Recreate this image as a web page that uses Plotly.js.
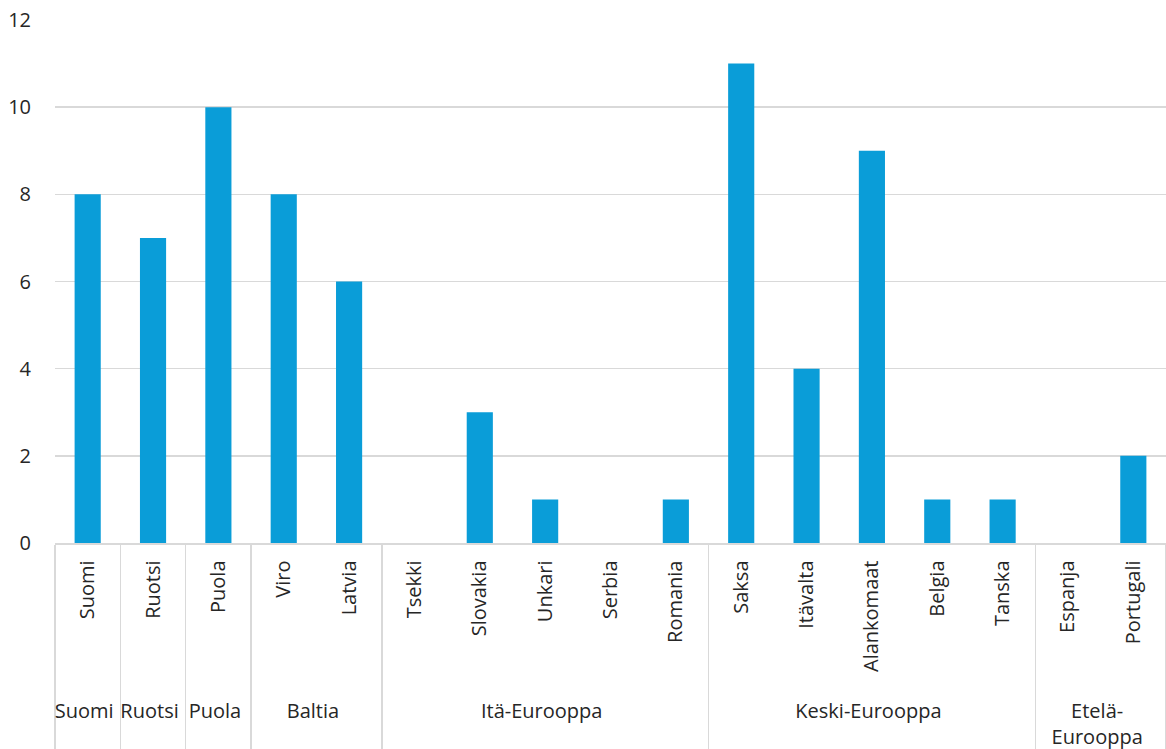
<!DOCTYPE html>
<html><head><meta charset="utf-8">
<script src="https://cdn.plot.ly/plotly-3.0.1.min.js"></script>
<style>html,body{margin:0;padding:0;background:#fff}#chart{width:1166px;height:749px}</style>
</head><body><div id="chart"></div>
<script>
const regions = ["Suomi","Ruotsi","Puola","Baltia","Baltia","Itä-Eurooppa","Itä-Eurooppa","Itä-Eurooppa","Itä-Eurooppa","Itä-Eurooppa","Keski-Eurooppa","Keski-Eurooppa","Keski-Eurooppa","Keski-Eurooppa","Keski-Eurooppa","Etelä-<br>Eurooppa","Etelä-<br>Eurooppa"];
const countries = ["Suomi","Ruotsi","Puola","Viro","Latvia","Tsekki","Slovakia","Unkari","Serbia","Romania","Saksa","Itävalta","Alankomaat","Belgia","Tanska","Espanja","Portugali"];
const values = [8,7,10,8,6,0,3,1,0,1,11,4,9,1,1,0,2];
const yTicks = [0,2,4,6,8,10,12];

// leading non-breaking spaces leave room below the rotated labels, as in the reference
const pad = '\u00a0\u00a0\u00a0';
const countryLabels = countries.map(c => pad + c);

Plotly.newPlot('chart',[{
  type:'bar', x:[regions,countryLabels], y:values,
  marker:{color:'#0a9dd8'}, hoverinfo:'none'
}],{
  width:1166, height:749,
  margin:{l:55,r:0,t:20,b:206},
  bargap:0.6,
  font:{family:'Open Sans, sans-serif', size:20, color:'#262626'},
  paper_bgcolor:'#fff', plot_bgcolor:'#fff',
  showlegend:false,
  xaxis:{type:'multicategory', tickangle:-90, showdividers:true, dividercolor:'#d9d9d9', dividerwidth:1.5,
    showline:true, linecolor:'#d9d9d9', linewidth:1.5, ticks:'', showgrid:false, ticklabelstandoff:8,
    tickfont:{size:20}},
  yaxis:{range:[0,12], tickvals:yTicks, showgrid:true, gridcolor:'#d9d9d9', gridwidth:1.5,
    zeroline:false, showline:false, ticks:'', ticklen:0, automargin:false, ticklabelstandoff:23,
    tickfont:{size:20}}
},{displayModeBar:false, staticPlot:true});
</script></body></html>
